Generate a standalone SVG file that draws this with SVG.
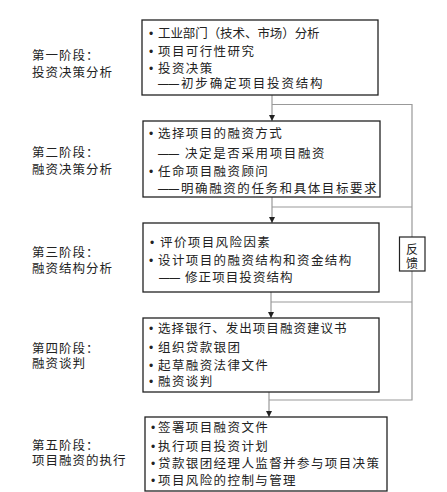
<svg xmlns="http://www.w3.org/2000/svg" width="447" height="492" viewBox="0 0 447 492">
<style>
.box{fill:#fff;stroke:#222;stroke-width:1.3}
.fb{fill:#fff;stroke:#222;stroke-width:1.2}
.lbl{font-family:"Liberation Sans","Noto Sans CJK SC",sans-serif;font-size:12.5px;fill:#222;letter-spacing:1px}
.fbt{font-family:"Liberation Sans","Noto Sans CJK SC",sans-serif;font-size:12px;fill:#222}
.t{font-family:"Liberation Sans","Noto Sans CJK SC",sans-serif;font-size:12.5px;fill:#222;letter-spacing:1.4px}
.b{font-family:"Liberation Sans",sans-serif;font-size:12px;letter-spacing:0}
.d{letter-spacing:0}
.con{fill:none;stroke:#999;stroke-width:1.2}
.arr{fill:none;stroke:#999;stroke-width:1.2;marker-end:url(#ah)}
</style>
<defs>
<marker id="ah" viewBox="0 0 6 8" refX="6" refY="4" markerWidth="6" markerHeight="8" markerUnits="userSpaceOnUse" orient="auto">
<path d="M0,1 L6,4 L0,7 Z" fill="#222"/>
</marker>
</defs>
<rect width="447" height="492" fill="#fff"/>
<g id="connectors">
<path class="con" d="M272,104.5 H412 V400 H269"/>
<path class="con" d="M272,207 H412"/>
<path class="con" d="M271,302 H412"/>
<path class="arr" d="M272,95 V121"/>
<path class="arr" d="M272,197 V223"/>
<path class="arr" d="M271,292 V318"/>
<path class="arr" d="M269,392 V417"/>
</g>
<g id="stage1">
<text class="lbl" x="32" y="59.5">第一阶段：</text>
<text class="lbl" x="32" y="76.5">投资决策分析</text>
<rect class="box" x="142" y="20" width="236" height="75"/>
<text class="t" y="37.5"><tspan class="b" x="149">•</tspan><tspan x="158" textLength="163" lengthAdjust="spacing">工业部门（技术、市场）分析</tspan></text>
<text class="t" y="55.5"><tspan class="b" x="149">•</tspan><tspan x="158">项目可行性研究</tspan></text>
<text class="t" y="73"><tspan class="b" x="149">•</tspan><tspan x="158">投资决策</tspan></text>
<text class="t" y="88"><tspan class="d" x="158" textLength="21" lengthAdjust="spacingAndGlyphs">——</tspan><tspan x="181" textLength="143" lengthAdjust="spacing">初步确定项目投资结构</tspan></text>
</g>
<g id="stage2">
<text class="lbl" x="32" y="156.5">第二阶段：</text>
<text class="lbl" x="32" y="173.5">融资决策分析</text>
<rect class="box" x="143" y="121" width="237" height="76"/>
<text class="t" y="137.5"><tspan class="b" x="149">•</tspan><tspan x="158">选择项目的融资方式</tspan></text>
<text class="t" y="157.5"><tspan class="d" x="158" textLength="21" lengthAdjust="spacingAndGlyphs">——</tspan><tspan x="185" textLength="141" lengthAdjust="spacing">决定是否采用项目融资</tspan></text>
<text class="t" y="175.5"><tspan class="b" x="149">•</tspan><tspan x="158">任命项目融资顾问</tspan></text>
<text class="t" y="192.5"><tspan class="d" x="158" textLength="21" lengthAdjust="spacingAndGlyphs">——</tspan><tspan x="181" textLength="197" lengthAdjust="spacing">明确融资的任务和具体目标要求</tspan></text>
</g>
<g id="stage3">
<text class="lbl" x="32" y="256.5">第三阶段：</text>
<text class="lbl" x="32" y="272.5">融资结构分析</text>
<rect class="box" x="143" y="223" width="236" height="69"/>
<text class="t" y="246.5"><tspan class="b" x="150">•</tspan><tspan x="160">评价项目风险因素</tspan></text>
<text class="t" y="264.5"><tspan class="b" x="149">•</tspan><tspan x="158">设计项目的融资结构和资金结构</tspan></text>
<text class="t" y="281.5"><tspan class="d" x="159" textLength="21" lengthAdjust="spacingAndGlyphs">——</tspan><tspan x="185" textLength="109" lengthAdjust="spacing">修正项目投资结构</tspan></text>
</g>
<g id="stage4">
<text class="lbl" x="32" y="352.5">第四阶段：</text>
<text class="lbl" x="32" y="367.5">融资谈判</text>
<rect class="box" x="143" y="318" width="236" height="74"/>
<text class="t" y="332.5"><tspan class="b" x="149">•</tspan><tspan x="158" textLength="190" lengthAdjust="spacing">选择银行、发出项目融资建议书</tspan></text>
<text class="t" y="351.5"><tspan class="b" x="149">•</tspan><tspan x="158">组织贷款银团</tspan></text>
<text class="t" y="369.5"><tspan class="b" x="149">•</tspan><tspan x="158">起草融资法律文件</tspan></text>
<text class="t" y="385.5"><tspan class="b" x="149">•</tspan><tspan x="158">融资谈判</tspan></text>
</g>
<g id="stage5">
<text class="lbl" x="32" y="449.5">第五阶段：</text>
<text class="lbl" x="32" y="464.5">项目融资的执行</text>
<rect class="box" x="145" y="417" width="242" height="74"/>
<text class="t" y="431.5"><tspan class="b" x="151">•</tspan><tspan x="158">签署项目融资文件</tspan></text>
<text class="t" y="450.5"><tspan class="b" x="151">•</tspan><tspan x="158">执行项目投资计划</tspan></text>
<text class="t" y="467.5"><tspan class="b" x="151">•</tspan><tspan x="158">贷款银团经理人监督并参与项目决策</tspan></text>
<text class="t" y="484.5"><tspan class="b" x="151">•</tspan><tspan x="158">项目风险的控制与管理</tspan></text>
</g>
<g id="feedback">
<rect class="fb" x="399.5" y="237" width="25.5" height="34"/>
<text class="fbt" x="412" y="254" text-anchor="middle">反</text>
<text class="fbt" x="412" y="267.5" text-anchor="middle">馈</text>
</g>
</svg>
